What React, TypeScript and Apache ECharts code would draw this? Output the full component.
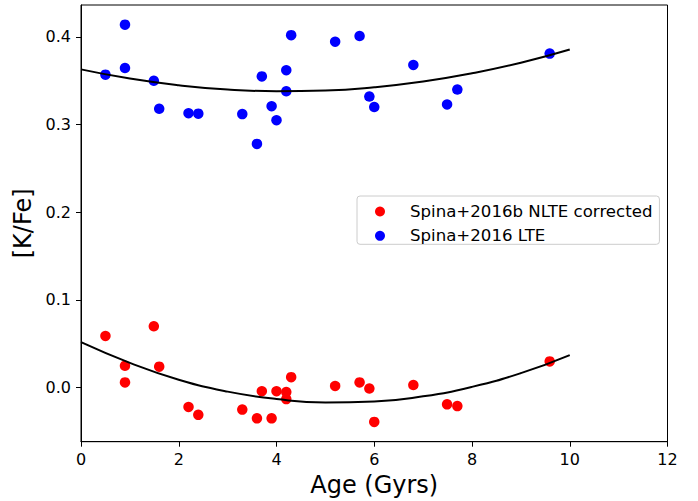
import React, { useEffect, useRef } from "react";
import * as echarts from "echarts";

const nlteAge = [0.5, 0.9, 0.9, 1.49, 1.6, 2.2, 2.4, 3.3, 3.6, 3.7, 3.9, 4.0, 4.2, 4.2, 4.3, 5.2, 5.7, 5.9, 6.0, 6.8, 7.49, 7.7, 9.59];
const nlteKFe = [0.059, 0.025, 0.006, 0.070, 0.024, -0.022, -0.031, -0.025, -0.035, -0.004, -0.035, -0.004, -0.005, -0.013, 0.012, 0.002, 0.006, -0.001, -0.039, 0.003, -0.019, -0.021, 0.030];

const lteAge = [0.5, 0.9, 0.9, 1.49, 1.6, 2.2, 2.4, 3.3, 3.6, 3.7, 3.9, 4.0, 4.2, 4.2, 4.3, 5.2, 5.7, 5.9, 6.0, 6.8, 7.49, 7.7, 9.59];
const lteKFe = [0.357, 0.414, 0.3645, 0.350, 0.318, 0.313, 0.3125, 0.312, 0.278, 0.355, 0.321, 0.305, 0.362, 0.338, 0.402, 0.3945, 0.401, 0.332, 0.320, 0.368, 0.323, 0.340, 0.381];

const fitAge = [0, 1, 2, 3, 4, 5, 6, 7, 8, 9, 10];
const fitNLTE = [0.0519, 0.0283, 0.0090, -0.0045, -0.0129, -0.0168, -0.0158, -0.0099, 0.0009, 0.0166, 0.0372];
const fitLTE = [0.363, 0.3525, 0.3449, 0.34, 0.3381, 0.3389, 0.3426, 0.3491, 0.3585, 0.3706, 0.3857];

const yTicks = [0.0, 0.1, 0.2, 0.3, 0.4];
const nameNLTE = "Spina+2016b NLTE corrected";
const nameLTE = "Spina+2016 LTE";

const FONT = "DejaVu Sans";

export default function App() {
  const ref = useRef<HTMLDivElement>(null);
  useEffect(() => {
    if (!ref.current) return;
    const chart = echarts.init(ref.current, null, { renderer: "svg" });
    const zip = (a: number[], b: number[]) => a.map((v, i) => [v, b[i]]);
    chart.setOption({
      animation: false,
      backgroundColor: "#ffffff",
      textStyle: { fontFamily: FONT },
      grid: {
        left: 81,
        right: 30.5,
        top: 5,
        bottom: 59.3,
        containLabel: false,
        outerBoundsMode: "none",
        show: true,
        borderColor: "#000",
        borderWidth: 1,
        backgroundColor: "transparent",
      },
      legend: {
        orient: "vertical",
        left: 357,
        top: 196,
        data: [nameNLTE, nameLTE],
        icon: "circle",
        itemWidth: 10,
        itemHeight: 10,
        itemGap: 7.3,
        padding: [7, 7, 0, 18],
        borderColor: "#cccccc",
        borderWidth: 1,
        borderRadius: 3,
        backgroundColor: "#ffffff",
        textStyle: {
          fontFamily: FONT,
          fontSize: 16.6,
          lineHeight: 16,
          color: "#000",
          padding: [0, 0, 0, 20],
        },
      },
      xAxis: {
        type: "value",
        min: 0,
        max: 12,
        interval: 2,
        name: "Age (Gyrs)",
        nameLocation: "middle",
        nameGap: 31,
        nameTextStyle: { fontFamily: FONT, fontSize: 24, color: "#000" },
        axisLine: { onZero: false, lineStyle: { color: "#000", width: 1 } },
        axisTick: { length: 5, lineStyle: { color: "#000" } },
        axisLabel: { fontFamily: FONT, fontSize: 16, color: "#000", margin: 10 },
        splitLine: { show: false },
      },
      yAxis: {
        type: "value",
        min: -0.0616,
        max: 0.4364,
        name: "[K/Fe]",
        nameLocation: "middle",
        nameGap: 44,
        nameTextStyle: { fontFamily: FONT, fontSize: 24, color: "#000" },
        axisLine: { show: true, onZero: false, lineStyle: { color: "#000", width: 1 } },
        axisTick: { show: true, length: 5, lineStyle: { color: "#000" }, customValues: yTicks },
        axisLabel: {
          fontFamily: FONT,
          fontSize: 16,
          color: "#000",
          margin: 10,
          customValues: yTicks,
          formatter: (v: number) => v.toFixed(1),
        },
        splitLine: { show: false },
      },
      series: [
        {
          name: nameNLTE,
          type: "scatter",
          data: zip(nlteAge, nlteKFe),
          symbol: "circle",
          symbolSize: 10.5,
          itemStyle: { color: "#ff0000", opacity: 1 },
        },
        {
          name: nameLTE,
          type: "scatter",
          data: zip(lteAge, lteKFe),
          symbol: "circle",
          symbolSize: 10.5,
          itemStyle: { color: "#0000ff", opacity: 1 },
        },
        {
          name: "fitNLTE",
          type: "line",
          data: zip(fitAge, fitNLTE),
          smooth: true,
          showSymbol: false,
          symbol: "none",
          lineStyle: { color: "#000", width: 2 },
          z: 3,
        },
        {
          name: "fitLTE",
          type: "line",
          data: zip(fitAge, fitLTE),
          smooth: true,
          showSymbol: false,
          symbol: "none",
          lineStyle: { color: "#000", width: 2 },
          z: 3,
        },
      ],
    });
    return () => chart.dispose();
  }, []);
  return (
    <div
      ref={ref}
      style={{ position: "fixed", left: 0, top: 0, width: 698, height: 501 }}
    />
  );
}
